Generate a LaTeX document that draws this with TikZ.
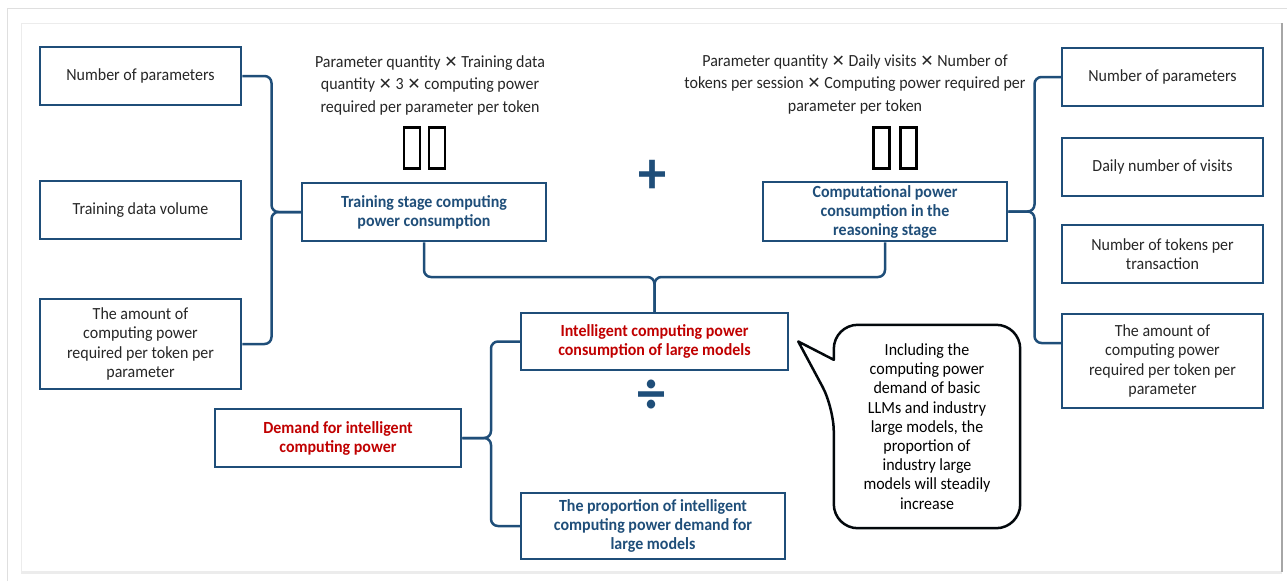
\documentclass[tikz,border=0pt]{standalone}
\usepackage{fontspec}
\setmainfont{Carlito}[FakeStretch=0.94]
\newfontfamily\symfont{DejaVu Sans}
\usepackage{xcolor}
\usetikzlibrary{calc}
\definecolor{navy}{HTML}{1F4E79}
\definecolor{darkred}{HTML}{C00000}
\definecolor{inkgray}{HTML}{262626}
\newcommand{\tms}{{\symfont\fontsize{16}{16}\selectfont ✕}}

\begin{document}
\begin{tikzpicture}[x=1pt,y=-1pt]
	 \tikzstyle{box}=[draw=navy,line width=2.5pt,inner sep=0pt,align=center,text=inkgray,font=\fontsize{17}{19.5}\selectfont]
	 \tikzstyle{key box}=[box,text=navy,font=\fontsize{17}{19}\selectfont\bfseries]
	 \tikzstyle{goal box}=[key box,text=darkred]
	 \tikzstyle{formula}=[align=center,inner sep=0pt,text=inkgray,font=\fontsize{17}{22.5}\selectfont]
	 \tikzstyle{tofu}=[draw=black,line width=2.5pt,minimum width=16pt,minimum height=41pt,inner sep=0pt]
	 \tikzstyle{link}=[draw=navy,line width=2.5pt,rounded corners=7pt]
	 \tikzstyle{callout}=[draw=black!90!navy,line width=2.5pt,line join=round]
	 \tikzstyle{sign}=[text=navy,font=\fontsize{60}{60}\selectfont\bfseries,inner sep=0pt]

	 \useasboundingbox (0,0) rectangle (1287,581);
	 % frame
	 \draw[gray!25,line width=1pt] (7,581) -- (7,8) -- (1287,8);
	 \draw[gray!15,line width=1pt] (21,572) -- (21,23) -- (1282,23);
	 \draw[gray!15,line width=3pt] (21,572) -- (1282,572);
	 \draw[gray!70,line width=1.5pt] (1282,23) -- (1282,572);

	 % training side
	 \node[box,minimum width=201pt,minimum height=58pt] (lnp) at (140.5,76) {Number of parameters};
	 \node[box,minimum width=201pt,minimum height=58pt] (ltd) at (140.5,210) {Training data volume};
	 \node[box,minimum width=201pt,minimum height=90pt] (lamt) at (140.5,344) {The amount of\\computing power\\required per token per\\parameter};
	 \node[key box,minimum width=244pt,minimum height=58pt] (tr) at (424,212) {Training stage computing\\power consumption};
	 \node[formula] (ftr) at (430,85) {Parameter quantity \tms{} Training data\\quantity \tms{} 3 \tms{} computing power\\required per parameter per token};
	 \node[tofu] (tl1) at (412,148) {};
	 \node[tofu] (tl2) at (437,148) {};

	 % reasoning side
	 \node[key box,minimum width=244pt,minimum height=59pt] (rs) at (885,211.5) {Computational power\\consumption in the\\reasoning stage};
	 \node[formula] (frs) at (855,84) {Parameter quantity \tms{} Daily visits \tms{} Number of\\tokens per session \tms{} Computing power required per\\parameter per token};
	 \node[tofu] (tr1) at (881.5,148) {};
	 \node[tofu] (tr2) at (908.5,148) {};
	 \node[box,minimum width=201pt,minimum height=58pt] (rnp) at (1162.5,77) {Number of parameters};
	 \node[box,minimum width=201pt,minimum height=58pt] (rdv) at (1162.5,167) {Daily number of visits};
	 \node[box,minimum width=201pt,minimum height=58pt] (rtk) at (1162.5,254) {Number of tokens per\\transaction};
	 \node[box,minimum width=201pt,minimum height=94pt] (ramt) at (1162.5,361) {The amount of\\computing power\\required per token per\\parameter};

	 \node[sign] (plus) at (653,177) {+};

	 % demand
	 \node[goal box,minimum width=267pt,minimum height=57pt] (ic) at (654.5,341.5) {Intelligent computing power\\consumption of large models};
	 \node[sign] (div) at (652,397) {÷};
	 \node[key box,minimum width=264pt,minimum height=66pt] (pr) at (653,526) {The proportion of intelligent\\computing power demand for\\large models};
	 \node[goal box,minimum width=246pt,minimum height=58pt] (dm) at (338,438) {Demand for intelligent\\computing power};

	 \node[align=center,inner sep=0pt,minimum width=186pt,minimum height=203pt,text=black,font=\fontsize{17}{19.2}\selectfont] (note) at (927,426.5) {Including the\\computing power\\demand of basic\\LLMs and industry\\large models, the\\proportion of\\industry large\\models will steadily\\increase};

	 % braces
	 \coordinate (lb) at ($(lnp.east)!0.5!(tr.west)$);
	 \draw[link] (lnp.east) -| (lb |- tr.west) -- (tr.west);
	 \draw[link] (lamt.east) -| (lb |- tr.west) -- (tr.west);

	 \coordinate (rb) at ($(rs.east)!0.5!(rnp.west)$);
	 \draw[link] (rnp.west) -| (rb |- rs.east) -- (rs.east);
	 \draw[link] ([yshift=18pt]ramt.west) -| (rb |- rs.east) -- (rs.east);

	 \coordinate (mb) at ($(tr.south)!0.5!(ic.north)$);
	 \draw[link] (tr.south) |- (ic.north |- mb) -- (ic.north);
	 \draw[link] (rs.south) |- (ic.north |- mb) -- (ic.north);

	 \coordinate (db) at ($(dm.east)!0.5!(ic.west)$);
	 \draw[link] (ic.west) -| (db |- dm.east) -- (dm.east);
	 \draw[link] (pr.west) -| (db |- dm.east) -- (dm.east);

	 \draw[callout] ([yshift=-35pt]note.north west) [rounded corners=24pt] -- (note.north west) -- (note.north east) -- (note.south east) -- (note.south west) -- ([yshift=-83pt]note.north west) [sharp corners] -- ([xshift=9pt]ic.east) -- cycle;
 \end{tikzpicture}
\end{document}
